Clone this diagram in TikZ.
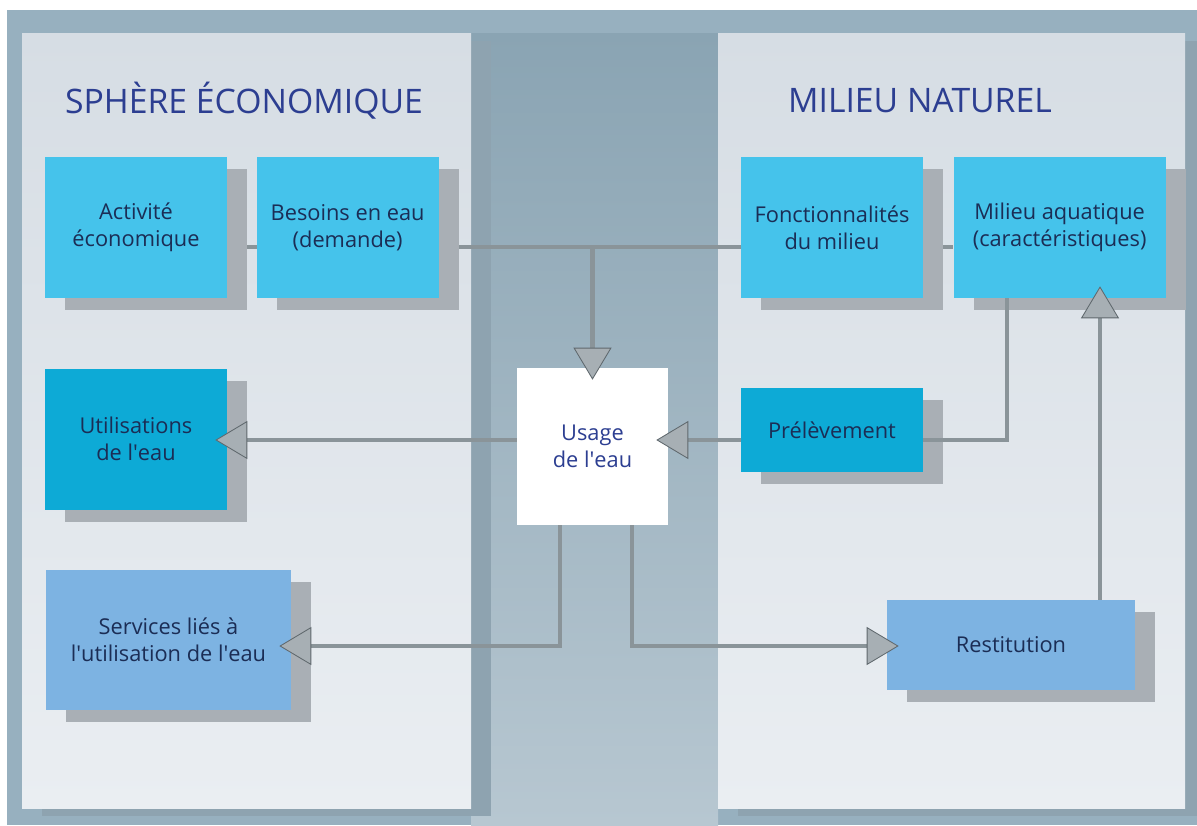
\documentclass[tikz,border=0pt]{standalone}
\usepackage{fontspec}
\setmainfont{Open Sans}
\usetikzlibrary{positioning, arrows.meta, backgrounds, shadows}
\definecolor{outer}{HTML}{97B0BF}
\definecolor{midtop}{HTML}{8AA4B3}
\definecolor{midbot}{HTML}{B7C7D1}
\definecolor{paneltop}{HTML}{D6DDE4}
\definecolor{panelbot}{HTML}{EAEEF2}
\definecolor{panelshade}{HTML}{8EA3B0}
\definecolor{aqua}{HTML}{45C3EB}
\definecolor{deepaqua}{HTML}{0DAAD6}
\definecolor{softblue}{HTML}{7DB3E2}
\definecolor{shade}{HTML}{A9AFB5}
\definecolor{ink}{HTML}{1B2D55}
\definecolor{titleblue}{HTML}{2C3E91}
\definecolor{wire}{HTML}{8A9499}
\definecolor{tipgray}{HTML}{A7AFB4}
\definecolor{tipedge}{HTML}{5F686D}
\newcommand{\apos}{\textquotesingle}

\begin{document}
\begin{tikzpicture}[x=0.025cm, y=-0.025cm,
    plain/.style={minimum width=4.55cm, minimum height=3.525cm, align=center, inner sep=2pt, text=ink, font=\fontsize{15.5}{19}\selectfont},
    box/.style={plain, drop shadow={shadow xshift=0.5cm, shadow yshift=-0.3cm, fill=shade, opacity=1}},
    panel/.style={top color=paneltop, bottom color=panelbot},
    title/.style={text=titleblue, font=\fontsize{24}{28}\selectfont},
    line/.style={draw=wire, line width=3.5pt},
    arr/.style={line, shorten >=-0.3cm, -{Triangle[length=0.8cm, width=0.95cm, fill=tipgray, color=tipedge, line width=0.6pt]}}
]
\useasboundingbox (0,0) rectangle (1197,825);

% Backdrop
\begin{scope}[on background layer]
\fill[outer] (7,10) rectangle (1197,825);
\shade[top color=midtop, bottom color=midbot] (471,33) rectangle (718,825);
\fill[panelshade] (42,41) rectangle (491,816);
\fill[panelshade] (738,41) rectangle (1197,816);
\shade[panel] (22,33) rectangle (471,808);
\shade[panel] (718,33) rectangle (1185,808);
\end{scope}

% Levels of the connectors
\coordinate (top) at (0,247);
\coordinate (mid) at (0,440);
\coordinate (low) at (0,646);
\coordinate (xl) at (560,0);
\coordinate (xr) at (632,0);
\coordinate (xm) at (1007,0);
\coordinate (xa) at (1100,0);

% Economic side
\node[title] (eco) at (244,101) {SPHÈRE ÉCONOMIQUE};
\node[box, fill=aqua] (act) at (136,227.5) {Activité\\économique};
\node[box, fill=aqua, right=0.725cm of act] (bes) {Besoins en eau\\(demande)};
\node[box, fill=deepaqua, below=1.75cm of act] (uti) {Utilisations\\de l\apos eau};
\node[box, fill=softblue, minimum width=6.125cm, minimum height=3.5cm] (ser) at (168.5,640) {Services liés à\\l\apos utilisation de l\apos eau};

% Natural side
\node[title] (nat) at (920,101) {MILIEU NATUREL};
\node[box, fill=aqua] (fon) at (832,227.5) {Fonctionnalités\\du milieu};
\node[box, fill=aqua, minimum width=5.3cm, right=0.75cm of fon] (mil) {Milieu aquatique\\(caractéristiques)};
\node[box, fill=deepaqua, minimum height=2.1cm] (pre) at (832,430) {Prélèvement};
\node[box, fill=softblue, minimum width=6.2cm, minimum height=2.25cm] (res) at (1011,645) {Restitution};

% Centre
\node[plain, fill=white, text=titleblue, minimum width=3.775cm, minimum height=3.925cm] (use) at (592.5,446.5) {Usage\\de l\apos eau};

% Connectors
\begin{scope}[on background layer]
\draw[line] (act.east |- top) -- (mil.west |- top);
\end{scope}
\draw[arr] (use.north |- top) -- (use.north);
\draw[arr] (pre.west |- mid) -- (use.east |- mid);
\draw[arr] (use.west |- mid) -- (uti.east |- mid);
\draw[line] (mil.south -| xm) |- (pre.east |- mid);
\draw[arr] (use.south -| xl) |- (ser.east |- low);
\draw[arr] (use.south -| xr) |- (res.west |- low);
\draw[arr] (res.north -| xa) -- (mil.south -| xa);

\end{tikzpicture}
\end{document}
